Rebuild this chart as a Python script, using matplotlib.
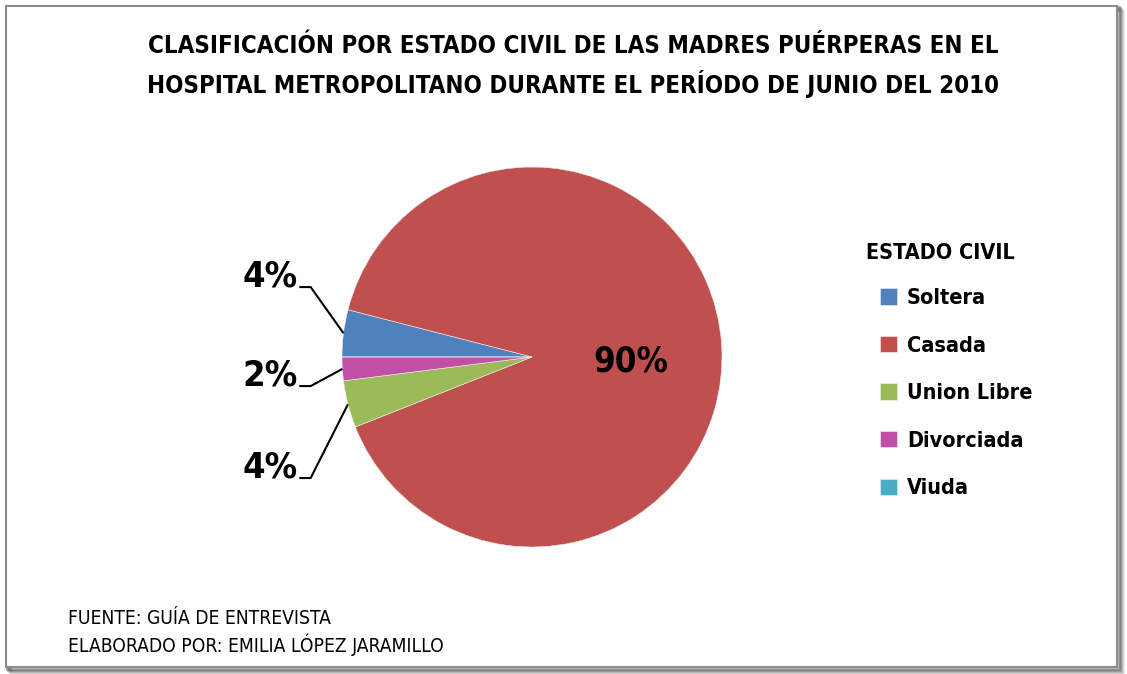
import numpy as np
import matplotlib
matplotlib.use("Agg")
import matplotlib.pyplot as plt
from matplotlib.patches import Rectangle

# datos del grafico
categorias = ['Soltera', 'Casada', 'Union Libre', 'Divorciada', 'Viuda']
valores = [4, 90, 4, 2, 0]
colores = ['#4F81BD', '#C0504D', '#9BBB59', '#C04FA6', '#4BACC6']
titulo = ('CLASIFICACIÓN POR ESTADO CIVIL DE LAS MADRES PUÉRPERAS EN EL\n'
          'HOSPITAL METROPOLITANO DURANTE EL PERÍODO DE JUNIO DEL 2010')
fuente = ['FUENTE: GUÍA DE ENTREVISTA', 'ELABORADO POR: EMILIA LÓPEZ JARAMILLO']

plt.rcParams['font.family'] = ['DejaVu Sans']
plt.rcParams['font.stretch'] = 'condensed'

W, H = 1127, 674
fig = plt.figure(figsize=(W / 100, H / 100), dpi=100)
fig.patch.set_facecolor('white')

# marco con sombra
for i, a in enumerate([0.10, 0.16, 0.24, 0.34, 0.45]):
    off = 5 - i
    fig.patches.append(Rectangle(((6 + off) / W, (6 - off) / H), 1112 / W, 662 / H,
                                 transform=fig.transFigure, facecolor='none',
                                 edgecolor=(0.3, 0.3, 0.3, a), lw=2, zorder=0))
fig.patches.append(Rectangle((6 / W, 7 / H), 1111 / W, 661 / H, transform=fig.transFigure,
                             facecolor='white', edgecolor='#8c8c8c', lw=1.5, zorder=1))

ax = fig.add_axes([(532 - 190) / W, (674 - 357 - 190) / H, 380 / W, 380 / H])
ax.set_zorder(2)
ax.patch.set_alpha(0)
wedges, _ = ax.pie(valores, colors=colores, startangle=180, counterclock=False,
                   wedgeprops=dict(linewidth=0.4, edgecolor='#f0f0f0'))
ax.set_xlim(-1, 1)
ax.set_ylim(-1, 1)
ax.set_aspect('equal')
ax.axis('off')

# etiquetas con lineas guia (Soltera, Divorciada, Union Libre)
etiq = {0: 0.368, 3: -0.153, 2: -0.637}
for idx, ly in etiq.items():
    w = wedges[idx]
    ang = np.deg2rad((w.theta1 + w.theta2) / 2)
    ex, ey = np.cos(ang), np.sin(ang)
    ax.plot([-1.225, -1.165, ex], [ly, ly, ey], color='black', lw=1.5,
            clip_on=False, solid_capstyle='butt')
    ax.text(-1.235, ly + 0.058, '%d%%' % valores[idx], ha='right', va='center',
            fontsize=26, fontweight='bold', clip_on=False)

ax.text(0.52, -0.025, '%d%%' % valores[1], ha='center', va='center',
        fontsize=25, fontweight='bold')

fig.text(573 / W, 1 - 66 / H, titulo, ha='center', va='center', fontsize=17.3,
         fontweight='bold', linespacing=1.55)

# leyenda
fig.text(866 / W, 1 - 253 / H, 'ESTADO CIVIL', ha='left', va='center',
         fontsize=15.5, fontweight='bold')
leg = fig.legend(wedges, categorias, loc='upper left', bbox_to_anchor=(880 / W, 1 - 288 / H),
                 frameon=False, handlelength=0.8, handleheight=0.8,
                 handletextpad=0.45, labelspacing=1.28, borderaxespad=0, borderpad=0,
                 prop=dict(size=15.5, weight='bold'))
leg.set_zorder(3)

fig.text(68 / W, 1 - 619 / H, fuente[0], ha='left', va='center', fontsize=13.8)
fig.text(68 / W, 1 - 645 / H, fuente[1], ha='left', va='center', fontsize=13.8)

fig.savefig('out.png', dpi=100)
